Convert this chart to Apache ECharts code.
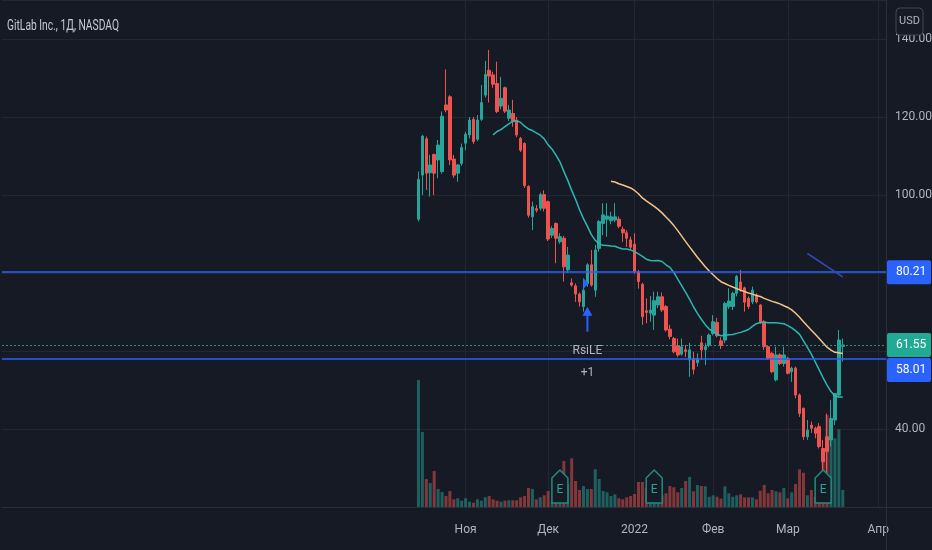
<!DOCTYPE html>
<html><head><meta charset="utf-8">
<script src="https://cdn.jsdelivr.net/npm/echarts@6/dist/echarts.min.js"></script>
<style>html,body{margin:0;padding:0;background:#161a25;}#c{width:932px;height:550px;}</style>
</head><body><div id="c"></div>
<script>
// ---- data ----
const title = 'GitLab Inc., 1Д, NASDAQ';
const firstDay = '2021-10-14';
const lastDay = '2022-04-05';
const holidays = ['2021-11-25', '2021-12-24', '2022-01-17', '2022-02-21'];
const monthNames = ['Янв', 'Фев', 'Мар', 'Апр', 'Май', 'Июн', 'Июл', 'Авг', 'Сен', 'Окт', 'Ноя', 'Дек'];
const priceTicks = [40, 100, 120, 140];
const opens = [93.8,105.1,114.4,105.7,110.4,109.0,106.0,123.1,125.2,109.2,
105.6,108.1,113.3,115.4,119.4,114.3,119.4,125.6,132.0,130.8,
128.6,122.8,127.5,119.7,120.9,119.2,114.5,113.2,102.2,94.4,
96.5,96.6,100.1,98.3,89.7,92.7,88.0,88.9,80.8,77.5,
76.7,74.6,71.4,77.3,82.1,75.6,86.3,92.7,93.8,93.4,
93.6,93.8,91.2,90.3,88.5,87.4,80.3,77.1,70.3,69.7,
69.2,71.8,73.9,71.4,65.6,63.2,61.4,59.2,60.3,57.7,
58.1,57.0,62.1,60.3,61.5,64.5,67.3,62.6,62.8,71.4,
71.4,74.8,77.7,76.2,73.5,72.6,74.4,71.8,67.5,61.1,
59.4,52.6,59.0,56.8,58.1,54.7,55.6,48.7,45.3,38.0,
41.0,40.2,40.6,35.0,38.0,37.2,42.3,48.7,61.2];
const closes = [104.0,115.1,105.6,107.7,105.6,112.8,120.2,121.8,109.0,105.1,
107.7,112.2,115.6,119.2,113.7,119.2,123.7,130.9,130.5,128.4,
121.4,124.8,121.5,121.8,118.8,115.4,111.5,102.4,94.8,97.0,
96.1,100.1,96.6,88.7,91.4,88.9,89.3,81.6,84.6,76.9,
74.6,72.6,75.6,82.1,76.9,85.9,93.2,94.9,94.6,94.4,
94.4,92.0,90.3,88.9,86.6,80.3,77.8,68.8,69.9,70.5,
72.9,73.9,70.5,65.4,63.7,59.8,59.0,61.1,59.9,60.3,
55.3,58.1,60.3,61.1,64.1,67.5,63.9,61.4,72.2,72.8,
74.8,79.1,75.8,72.5,71.4,75.6,72.6,67.5,61.1,58.1,
54.7,59.0,56.8,59.0,54.3,55.6,48.7,44.0,38.0,39.7,
40.2,38.9,35.5,31.6,34.2,42.7,49.1,62.8,61.55];
const lows = [93.2,100.0,101.3,99.6,100.0,104.3,105.5,121.2,107.7,104.4,
103.4,107.5,111.5,114.5,113.1,113.8,119.0,125.0,123.7,127.5,
121.0,122.0,121.0,119.0,117.5,114.8,111.0,101.8,94.2,91.0,
95.5,96.0,95.8,88.2,89.0,82.5,87.5,77.8,80.0,76.5,
72.6,71.4,70.1,76.5,76.5,73.9,85.5,89.7,89.3,92.5,
93.0,91.5,88.0,86.7,86.0,79.8,76.0,66.7,67.1,67.5,
65.4,71.0,70.0,65.0,63.0,59.4,58.5,58.8,58.5,53.4,
54.0,56.0,57.7,56.4,61.0,64.0,63.5,60.5,62.0,70.8,
70.5,74.0,75.2,70.1,70.8,72.0,72.2,67.0,60.3,57.7,
54.3,52.2,56.4,56.0,54.0,52.1,47.9,43.1,37.2,37.2,
39.0,37.6,35.0,28.6,28.6,35.5,41.0,48.3,57.3];
const highs = [106.0,115.4,115.0,110.3,110.6,114.1,121.4,132.2,125.6,110.3,
108.0,113.2,116.2,120.0,120.0,120.5,128.2,134.4,137.2,131.6,
134.2,130.3,127.8,123.1,124.4,120.0,114.9,113.5,102.5,98.3,
97.4,100.6,101.2,98.6,92.0,93.0,90.2,89.5,86.7,78.6,
77.3,75.0,78.6,82.5,85.9,87.2,93.6,97.9,97.9,95.7,
97.9,94.5,91.9,91.0,89.3,90.2,80.8,77.5,73.5,74.1,
75.2,75.2,75.0,71.8,66.7,63.6,63.2,63.2,61.5,62.1,
59.8,59.4,63.9,62.0,64.5,69.2,68.5,63.5,72.6,76.1,
75.2,79.5,80.8,76.5,74.0,76.5,74.8,72.0,67.9,61.5,
59.8,61.1,59.4,61.1,58.5,56.0,56.0,49.1,45.5,42.3,
41.9,40.6,41.5,37.2,44.0,47.4,49.1,65.4,63.2];
// volume, millions of shares
const volumes = [12.7,7.5,2.8,2.4,3.6,1.8,1.5,1.1,1.6,0.77,
0.87,0.63,0.87,0.53,0.43,0.77,0.63,0.97,1.1,0.77,
0.63,0.53,0.63,0.67,0.67,0.67,0.97,1.1,1.9,1.8,
0.77,0.97,1.17,1.6,0.5,0.45,0.6,4.6,2.3,4.87,
2.6,1.7,2.1,1.8,1.8,3.77,2.8,1.6,1.47,1.1,
1.27,0.87,0.77,0.97,1.1,1.3,2.5,2.5,1.9,0.97,
2.1,1.1,1.17,1.37,2.1,1.97,1.47,1.9,2.6,3.0,
1.57,2.2,2.1,2.07,1.03,1.17,1.03,0.83,2.07,1.37,
1.03,1.17,1.27,0.97,0.97,0.97,0.77,1.63,2.2,1.37,
1.7,1.57,1.47,1.9,0.87,1.47,2.3,3.77,3.43,1.17,
1.7,1.0,2.0,5.37,9.2,6.87,6.87,7.77,1.7];
const hLevels = [80.21, 58.01];
const lastPrice = 61.55;
const trendLine = [[99, 85.0], [108, 79.0]];   // [bar index, price]
const earningsBars = [36, 60, 103];
const signalBar = 43;
const signalText = ['RsiLE', '+1'];
const maPeriods = [20, 50];

// ---- layout / style ----
const BG = '#161a25', GRIDC = '#232734', TXT = '#b2b5be';
const UP = '#26a69a', DOWN = '#ef5350', BLUE = '#2962ff';
const FONT = "Roboto,'Liberation Sans',sans-serif";
const padLeft = 106;

function tradingDays(from, to) {
  const out = []; const d = new Date(from + 'T00:00:00Z'); const end = new Date(to + 'T00:00:00Z');
  while (d <= end) {
    const wd = d.getUTCDay(); const s = d.toISOString().slice(0, 10);
    if (wd !== 0 && wd !== 6 && holidays.indexOf(s) < 0) out.push(s);
    d.setUTCDate(d.getUTCDate() + 1);
  }
  return out;
}
const days = tradingDays(firstDay, lastDay);
const categories = Array(padLeft).fill('').concat(days);
const isMonthStart = (i) => {
  const v = categories[i], p = categories[i - 1];
  return !!(v && p && v.slice(5, 7) !== p.slice(5, 7));
};
const monthLabel = (v) => {
  const m = +v.slice(5, 7);
  return m === 1 ? v.slice(0, 4) : monthNames[m - 1];
};
const pad = (arr) => Array(padLeft).fill('-').concat(arr, Array(categories.length - padLeft - arr.length).fill('-'));
const candleData = pad(opens.map((o, i) => [o, closes[i], lows[i], highs[i]]));
const volData = pad(volumes.map((v, i) => ({ value: v, itemStyle: { color: closes[i] >= opens[i] ? 'rgba(38,166,154,0.5)' : 'rgba(239,83,80,0.5)' } })));
function sma(n) {
  return closes.map((c, i) => {
    if (i < n - 1) return '-';
    let s = 0; for (let j = i - n + 1; j <= i; j++) s += closes[j];
    return +(s / n).toFixed(3);
  });
}

const chart = echarts.init(document.getElementById('c'), null, { renderer: 'canvas' });
chart.setOption({
  backgroundColor: BG,
  animation: false,
  textStyle: { fontFamily: FONT },
  grid: { left: 2, right: 46, top: 0, bottom: 43, containLabel: false, outerBoundsMode: 'none' },
  xAxis: {
    type: 'category', data: categories, boundaryGap: false,
    axisLine: { lineStyle: { color: '#2a2e39' } },
    axisTick: { show: false },
    axisLabel: {
      interval: (i) => isMonthStart(i),
      formatter: (v, i) => (isMonthStart(i) ? monthLabel(v) : ''),
      color: TXT, fontSize: 12, margin: 17, fontFamily: FONT
    },
    splitLine: { show: true, interval: (i) => isMonthStart(i), lineStyle: { color: GRIDC, width: 1 } }
  },
  yAxis: [
    {
      type: 'value', position: 'right', min: 20, max: 150, interval: 20,
      axisLine: { show: true, lineStyle: { color: '#2a2e39' } },
      axisTick: { show: false },
      axisLabel: {
        color: TXT, fontSize: 12, margin: 9, align: 'left', fontFamily: FONT,
        formatter: (v) => (priceTicks.indexOf(v) >= 0 ? v.toFixed(2) : '')
      },
      splitLine: { lineStyle: { color: GRIDC, width: 1 } }
    },
    { type: 'value', min: 0, max: 50.7, show: false, splitLine: { show: false } }
  ],
  series: [
    { name: 'Volume', type: 'bar', yAxisIndex: 1, data: volData, barWidth: 3, z: 1, silent: true },
    {
      name: 'Price', type: 'candlestick', yAxisIndex: 0, data: candleData, barWidth: 3, z: 3,
      itemStyle: { color: UP, color0: DOWN, borderColor: UP, borderColor0: DOWN, borderWidth: 1 },
      markLine: {
        silent: true, symbol: ['none', 'none'], label: { show: false }, animation: false,
        data: [
          { yAxis: hLevels[0], lineStyle: { color: BLUE, width: 1.5, type: 'solid' } },
          { yAxis: hLevels[1], lineStyle: { color: BLUE, width: 1.5, type: 'solid' } },
          { yAxis: lastPrice, lineStyle: { color: '#2a8f82', width: 1, type: [2, 2] } },
          [
            { coord: [padLeft + trendLine[0][0], trendLine[0][1]], lineStyle: { color: '#2f4cb3', width: 1.5, type: 'solid' } },
            { coord: [padLeft + trendLine[1][0], trendLine[1][1]] }
          ]
        ]
      }
    },
    {
      name: 'MA' + maPeriods[0], type: 'line', yAxisIndex: 0, data: pad(sma(maPeriods[0])), showSymbol: false, z: 4,
      lineStyle: { color: '#2bb8b3', width: 1.5 }, silent: true
    },
    {
      name: 'MA' + maPeriods[1], type: 'line', yAxisIndex: 0, data: pad(sma(maPeriods[1])), showSymbol: false, z: 4,
      lineStyle: { color: '#f3c48c', width: 1.5 }, silent: true
    }
  ]
});

// ---- overlays positioned from the chart's own scales ----
const xPix = (k) => chart.convertToPixel({ xAxisIndex: 0 }, padLeft + k);
const yPix = (v) => chart.convertToPixel({ yAxisIndex: 0 }, v);
const plotRight = xPix(categories.length - 1 - padLeft);
const paneBottom = yPix(20);
const G = [];
// title, condensed to the width it has in the original picture
const mctx = document.createElement('canvas').getContext('2d');
mctx.font = '15px Roboto';
const titleScale = 112 / mctx.measureText(title).width;
G.push({ type: 'text', x: 7, y: 26, scaleX: titleScale, style: { text: title, fill: '#c5c9d3', fontSize: 15, fontFamily: 'Roboto', verticalAlign: 'middle', align: 'left' }, z: 100 });
// separators extending through the time axis
G.push({ type: 'line', shape: { x1: plotRight + 0.5, y1: paneBottom, x2: plotRight + 0.5, y2: 550 }, style: { stroke: '#2a2e39', lineWidth: 1 }, z: 50 });
G.push({ type: 'line', shape: { x1: plotRight, y1: paneBottom + 0.5, x2: 932, y2: paneBottom + 0.5 }, style: { stroke: '#2a2e39', lineWidth: 1 }, z: 50 });
// price tags
function tag(val, yc, bg) {
  G.push({ type: 'rect', shape: { x: plotRight + 1, y: yc - 12, width: 932 - plotRight - 2, height: 24, r: 2 }, style: { fill: bg }, z: 100 });
  G.push({ type: 'text', x: plotRight + 10, y: yc, style: { text: val.toFixed(2), fill: '#ffffff', fontSize: 12, fontFamily: FONT, verticalAlign: 'middle', align: 'left' }, z: 101 });
}
const yLast = yPix(lastPrice);
tag(hLevels[0], yPix(hLevels[0]), BLUE);
tag(lastPrice, yLast, '#22ab94');
tag(hLevels[1], Math.max(yPix(hLevels[1]), yLast + 25), BLUE);
// USD box
G.push({ type: 'rect', shape: { x: plotRight + 10, y: 8, width: 27, height: 27, r: 4 }, style: { fill: BG, stroke: '#434651', lineWidth: 1 }, z: 100 });
G.push({ type: 'text', x: plotRight + 23.5, y: 21.5, style: { text: 'USD', fill: TXT, fontSize: 11, fontFamily: FONT, align: 'center', verticalAlign: 'middle' }, z: 101 });
// strategy signal
const sx = xPix(signalBar), sLow = yPix(lows[signalBar]), sEntry = yPix(opens[signalBar]);
G.push({ type: 'polygon', shape: { points: [[sx - 4, sEntry - 5.5], [sx - 4, sEntry + 5.5], [sx + 1, sEntry]] }, style: { fill: BLUE }, z: 60 });
G.push({ type: 'polygon', shape: { points: [[sx, sLow + 20], [sx - 5, sLow + 29], [sx + 5, sLow + 29]] }, style: { fill: BLUE }, z: 60 });
G.push({ type: 'rect', shape: { x: sx - 1, y: sLow + 28, width: 2, height: 17 }, style: { fill: BLUE }, z: 60 });
G.push({ type: 'text', x: sx, y: sLow + 64, style: { text: signalText[0], fill: TXT, fontSize: 12, fontFamily: FONT, align: 'center', verticalAlign: 'middle' }, z: 60 });
G.push({ type: 'text', x: sx, y: sLow + 86, style: { text: signalText[1], fill: TXT, fontSize: 12, fontFamily: FONT, align: 'center', verticalAlign: 'middle' }, z: 60 });
// earnings markers
earningsBars.forEach((k) => {
  const ex = xPix(k), b = paneBottom - 4, t = paneBottom - 37;
  G.push({ type: 'polygon', shape: { points: [[ex, t], [ex + 8, t + 8], [ex + 8, b], [ex - 8, b], [ex - 8, t + 8]] }, style: { fill: BG, stroke: '#1f8c83', lineWidth: 1.5, lineJoin: 'round' }, z: 60 });
  G.push({ type: 'text', x: ex, y: t + 20, style: { text: 'E', fill: '#2aa397', fontSize: 12, fontFamily: FONT, align: 'center', verticalAlign: 'middle' }, z: 61 });
});
chart.setOption({ graphic: G });
</script>
</body></html>
